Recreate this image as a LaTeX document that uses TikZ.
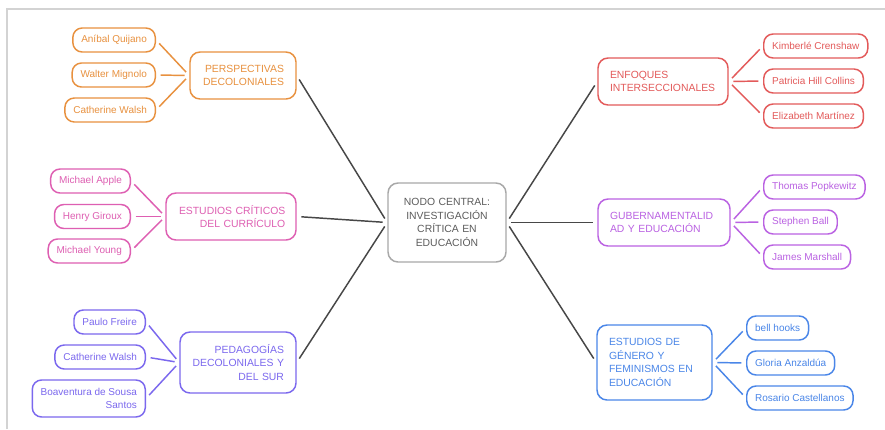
\documentclass[tikz,border=0pt]{standalone}
\usepackage{fontspec}
\setmainfont{Liberation Sans}
\definecolor{cOr}{HTML}{E8913F}
\definecolor{cPk}{HTML}{DE5FB2}
\definecolor{cIn}{HTML}{7B68EE}
\definecolor{cRd}{HTML}{E35A5A}
\definecolor{cVi}{HTML}{BA62E2}
\definecolor{cBl}{HTML}{4A86E8}
\definecolor{cFrame}{HTML}{D3D3D3}
\definecolor{cHubLine}{HTML}{A8A8A8}
\definecolor{cHubText}{HTML}{5C5C5C}
\definecolor{cTrunk}{HTML}{474747}
\tikzset{
  mainbox/.style={draw=#1, text=#1, line width=1.1pt, rounded corners=7.5pt,
    inner xsep=9pt, inner ysep=3pt, font=\fontsize{7.8}{10.1}\selectfont},
  leafbox/.style={draw=#1, text=#1, line width=1.1pt, rounded corners=7pt,
    inner xsep=6.3pt, inner ysep=2pt, minimum height=18pt,
    font=\fontsize{7.5}{9.4}\selectfont},
  hubbox/.style={draw=cHubLine, text=cHubText, line width=1.1pt, rounded corners=7.5pt,
    inner xsep=9pt, align=center, font=\fontsize{7.8}{10.1}\selectfont},
  twig/.style={draw=#1, line width=1.1pt, shorten <=3.5pt, shorten >=3.5pt},
  trunk/.style={draw=cTrunk, line width=1.1pt, shorten <=3.5pt, shorten >=3.5pt},
}
\begin{document}
\begin{tikzpicture}[x=0.75pt, y=-0.75pt]
\useasboundingbox (0,0) rectangle (885,429);
\fill[white] (0,0) rectangle (885,429);
% light frame along the top and left edges
\draw[cFrame, line width=1.5pt] (7,429) -- (7,9) -- (885,9);

% central node
\node[hubbox, text width=70.5pt, minimum height=59.25pt] (hub) at (447,222.5)
  {NODO CENTRAL:\\INVESTIGACIÓN\\CRÍTICA EN\\EDUCACIÓN};

% left branches
\node[mainbox=cOr, text width=61.5pt, minimum height=35.25pt, align=right] (m1) at (243,75.5)
  {PERSPECTIVAS\\DECOLONIALES};
\node[mainbox=cPk, inner xsep=8pt, text width=81.5pt, minimum height=35.25pt, align=right] (m2) at (231,216.5)
  {ESTUDIOS CRÍTICOS\\DEL CURRÍCULO};
\node[mainbox=cIn, text width=69pt, minimum height=45.75pt, align=right] (m3) at (238,362.5)
  {PEDAGOGÍAS\\DECOLONIALES Y\\DEL SUR};

% right branches
\node[mainbox=cRd, text width=79.5pt, minimum height=35.25pt, align=left] (m4) at (663,81.5)
  {ENFOQUES\\INTERSECCIONALES};
\node[mainbox=cVi, text width=81pt, minimum height=35.25pt, align=left] (m5) at (664,222.5)
  {GUBERNAMENTALID\\AD Y EDUCACIÓN};
\node[mainbox=cBl, text width=68.25pt, minimum height=56.25pt, align=left] (m6) at (654.5,362.5)
  {ESTUDIOS DE\\GÉNERO Y\\FEMINISMOS EN\\EDUCACIÓN};

% authors, left side
\node[leafbox=cOr, anchor=east] (a1) at (156,40) {Aníbal Quijano};
\node[leafbox=cOr, anchor=east] (a2) at (156,75) {Walter Mignolo};
\node[leafbox=cOr, anchor=east] (a3) at (156,110) {Catherine Walsh};

\node[leafbox=cPk, anchor=east] (b1) at (131,181) {Michael Apple};
\node[leafbox=cPk, anchor=east] (b2) at (131,216.5) {Henry Giroux};
\node[leafbox=cPk, anchor=east] (b3) at (131,251) {Michael Young};

\node[leafbox=cIn, anchor=east] (c1) at (146,322) {Paulo Freire};
\node[leafbox=cIn, anchor=east] (c2) at (146,357) {Catherine Walsh};
\node[leafbox=cIn, anchor=east, align=right, minimum height=27.75pt] (c3) at (146,398.5)
  {Boaventura de Sousa\\Santos};

% authors, right side
\node[leafbox=cRd, anchor=west] (d1) at (763,46) {Kimberlé Crenshaw};
\node[leafbox=cRd, anchor=west] (d2) at (763,81) {Patricia Hill Collins};
\node[leafbox=cRd, anchor=west] (d3) at (763,116) {Elizabeth Martínez};

\node[leafbox=cVi, anchor=west] (e1) at (763,187) {Thomas Popkewitz};
\node[leafbox=cVi, anchor=west] (e2) at (763,222) {Stephen Ball};
\node[leafbox=cVi, anchor=west] (e3) at (763,257) {James Marshall};

\node[leafbox=cBl, anchor=west] (f1) at (746,328) {bell hooks};
\node[leafbox=cBl, anchor=west] (f2) at (746,363) {Gloria Anzaldúa};
\node[leafbox=cBl, anchor=west] (f3) at (746,398) {Rosario Castellanos};

% trunk connectors
\draw[trunk] (m1.east) -- (hub.west);
\draw[trunk] (m2.east) -- (hub.west);
\draw[trunk] (m3.east) -- (hub.west);
\draw[trunk] (hub.east) -- (m4.west);
\draw[trunk] (hub.east) -- (m5.west);
\draw[trunk] (hub.east) -- (m6.west);

% twig connectors
\foreach \s in {a1,a2,a3} \draw[twig=cOr] (\s.east) -- (m1.west);
\foreach \s in {b1,b2,b3} \draw[twig=cPk] (\s.east) -- (m2.west);
\foreach \s in {c1,c2,c3} \draw[twig=cIn] (\s.east) -- (m3.west);
\foreach \s in {d1,d2,d3} \draw[twig=cRd] (m4.east) -- (\s.west);
\foreach \s in {e1,e2,e3} \draw[twig=cVi] (m5.east) -- (\s.west);
\foreach \s in {f1,f2,f3} \draw[twig=cBl] (m6.east) -- (\s.west);
\end{tikzpicture}
\end{document}
